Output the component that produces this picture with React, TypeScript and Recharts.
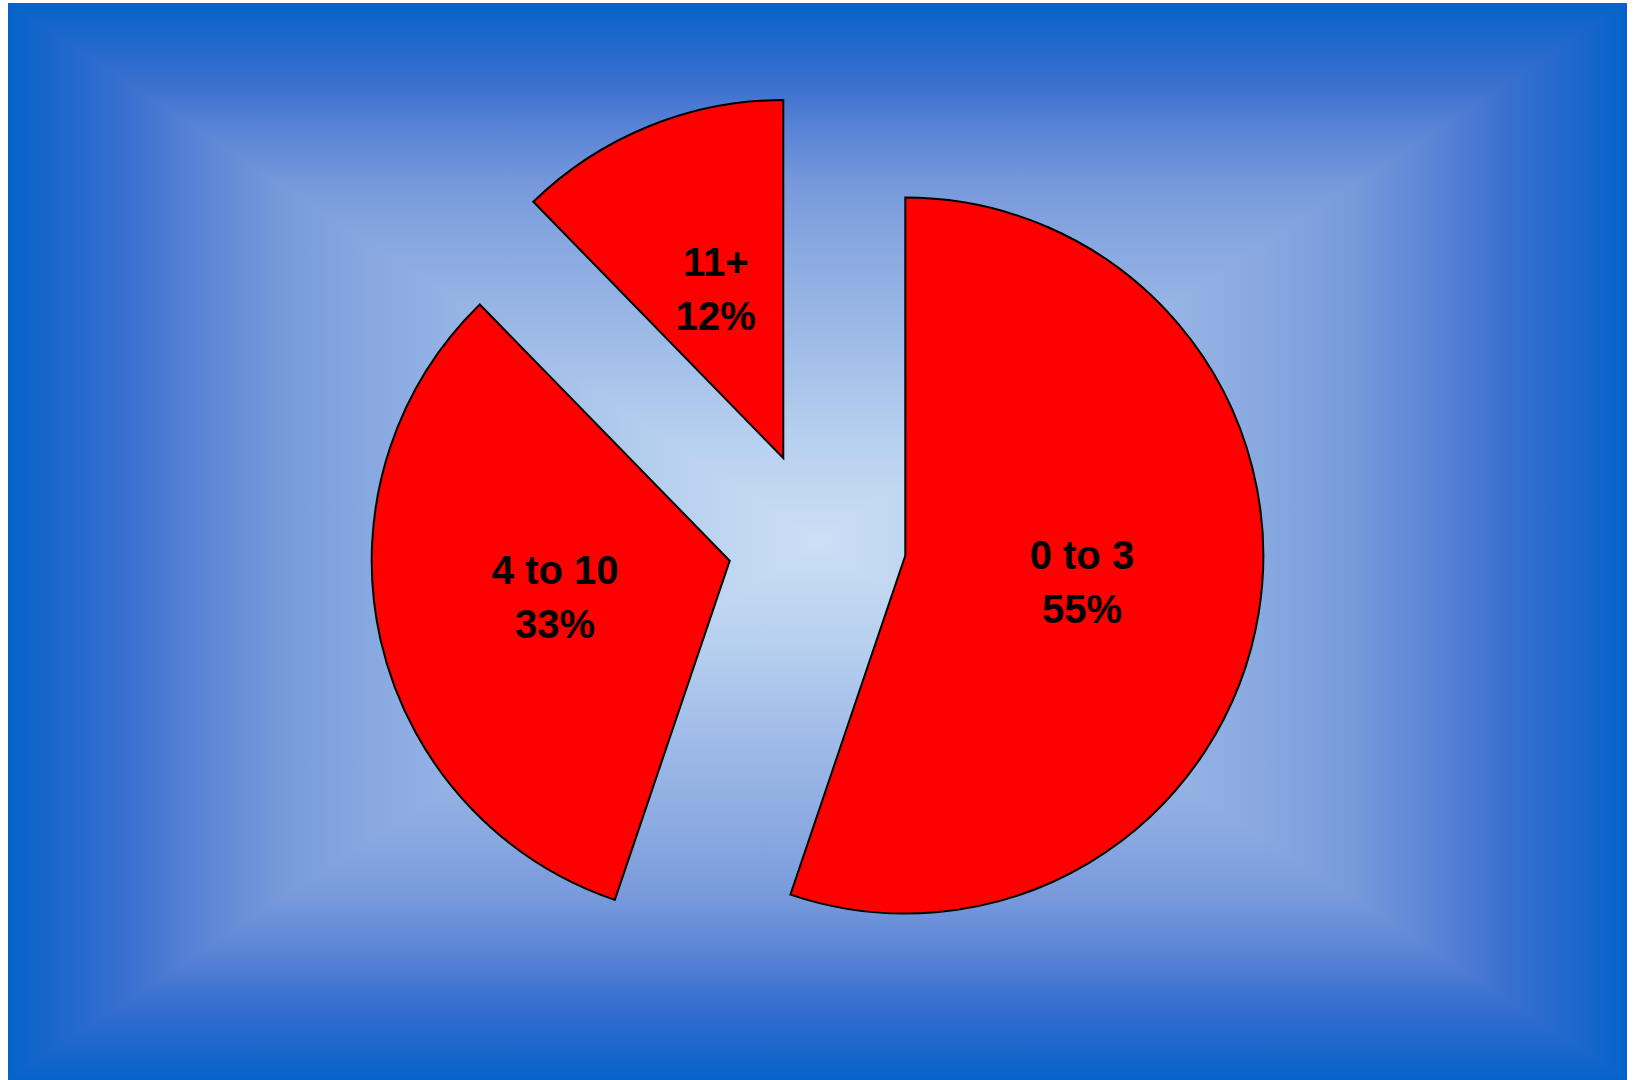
import React from 'react';
import { PieChart, Pie, Cell } from 'recharts';

// ---- data ----
const categories = ['0 to 3', '4 to 10', '11+'];
const shares = [55.2, 32.5, 12.3];
const percentLabels = ['55%', '33%', '12%'];

const data = categories.map((name, i) => ({ name, value: shares[i], pct: percentLabels[i] }));

// ---- layout / style ----
const W = 1619;
const H = 1077;
const CX = 809;
const CY = 538;
const R = 358;
const EXPLODE = 0.25 * R;
const START = 90;
const END = -270;

const gradStops: [number, string][] = [
  [0, '#0463CB'],
  [0.04, '#1565CB'],
  [0.15, '#3A70CF'],
  [0.22, '#5580D5'],
  [0.335, '#7799DB'],
  [0.45, '#88A8E0'],
  [0.6, '#9BB8E6'],
  [0.8, '#B6CFEF'],
  [1, '#CBDFF5'],
];

const total = shares.reduce((a, b) => a + b, 0);
const midAngles = (() => {
  const out: number[] = [];
  let cum = 0;
  shares.forEach((v) => {
    out.push(START + ((END - START) * (cum + v / 2)) / total);
    cum += v;
  });
  return out;
})();

const RAD = Math.PI / 180;

const makeLabel = (target: number) => (props: any) => {
  if (props.index !== target) return null;
  const { cx, cy, midAngle, outerRadius } = props;
  const r = outerRadius * 0.5;
  const x = cx + r * Math.cos(-midAngle * RAD);
  const y = cy + r * Math.sin(-midAngle * RAD);
  const d = data[target];
  return (
    <text
      key={`lbl-${target}`}
      x={x}
      y={y}
      textAnchor="middle"
      fontFamily="'Liberation Sans', Arial, sans-serif"
      fontWeight="bold"
      fontSize={40}
      fill="#000"
    >
      <tspan x={x} y={y - 16}>{d.name}</tspan>
      <tspan x={x} y={y + 38}>{d.pct}</tspan>
    </text>
  );
};

function Background() {
  const stopsH = [
    ...gradStops.map(([t, c]) => [t / 2, c] as [number, string]),
    ...gradStops
      .slice()
      .reverse()
      .map(([t, c]) => [1 - t / 2, c] as [number, string]),
  ];
  return (
    <svg width={W} height={H} style={{ position: 'absolute', left: 0, top: 0 }}>
      <defs>
        <linearGradient id="gh" gradientUnits="userSpaceOnUse" x1={0} y1={0} x2={W} y2={0}>
          {stopsH.map(([t, c], i) => (
            <stop key={i} offset={t} stopColor={c} />
          ))}
        </linearGradient>
        <linearGradient id="gt" gradientUnits="userSpaceOnUse" x1={0} y1={0} x2={0} y2={H / 2}>
          {gradStops.map(([t, c], i) => (
            <stop key={i} offset={t} stopColor={c} />
          ))}
        </linearGradient>
        <linearGradient id="gb" gradientUnits="userSpaceOnUse" x1={0} y1={H} x2={0} y2={H / 2}>
          {gradStops.map(([t, c], i) => (
            <stop key={i} offset={t} stopColor={c} />
          ))}
        </linearGradient>
      </defs>
      <rect x={0} y={0} width={W} height={H} fill="url(#gh)" />
      <polygon points={`0,0 ${W},0 ${W / 2},${H / 2}`} fill="url(#gt)" />
      <polygon points={`0,${H} ${W},${H} ${W / 2},${H / 2}`} fill="url(#gb)" />
    </svg>
  );
}

export default function App() {
  return (
    <div style={{ position: 'absolute', left: 8, top: 3, width: W, height: H, overflow: 'hidden' }}>
      <Background />
      <div style={{ position: 'absolute', left: 0, top: 0 }}>
        <PieChart width={W} height={H} margin={{ top: 0, right: 0, bottom: 0, left: 0 }}>
          {data.map((_, i) => {
            const dx = EXPLODE * Math.cos(midAngles[i] * RAD);
            const dy = -EXPLODE * Math.sin(midAngles[i] * RAD);
            return (
              <Pie
                key={`pie-${i}`}
                data={data}
                dataKey="value"
                nameKey="name"
                cx={CX + dx}
                cy={CY + dy}
                outerRadius={R}
                innerRadius={0}
                startAngle={START}
                endAngle={END}
                stroke="none"
                isAnimationActive={false}
                labelLine={false}
                label={makeLabel(i)}
              >
                {data.map((__, j) =>
                  j === i ? (
                    <Cell key={`c-${j}`} fill="#FF0000" stroke="#000000" strokeWidth={2} />
                  ) : (
                    <Cell key={`c-${j}`} fill="none" stroke="none" />
                  )
                )}
              </Pie>
            );
          })}
        </PieChart>
      </div>
    </div>
  );
}
